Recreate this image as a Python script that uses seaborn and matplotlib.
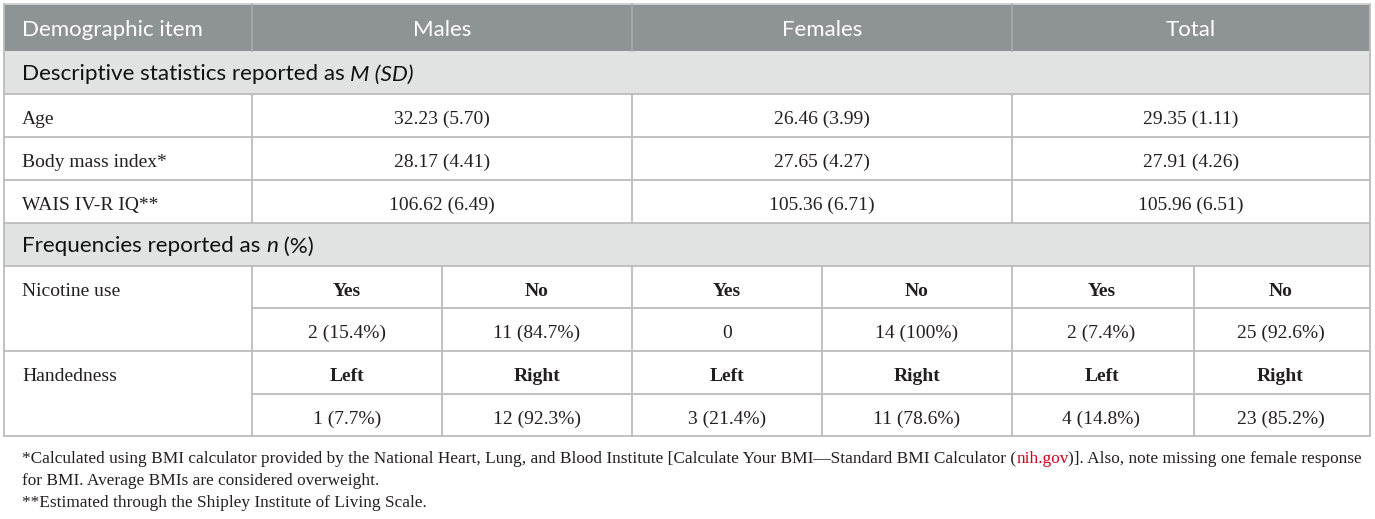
import matplotlib.pyplot as plt
import seaborn as sns

# table content
header = ["Demographic item", "Males", "Females", "Total"]
section_titles = ["Descriptive statistics reported as ", "Frequencies reported as "]
section_italics = ["M (SD)", "n"]
section_tails = ["", " (%)"]

desc_items = ["Age", "Body mass index*", "WAIS IV-R IQ**"]
males_msd = ["32.23 (5.70)", "28.17 (4.41)", "106.62 (6.49)"]
females_msd = ["26.46 (3.99)", "27.65 (4.27)", "105.36 (6.71)"]
total_msd = ["29.35 (1.11)", "27.91 (4.26)", "105.96 (6.51)"]

freq_items = ["Nicotine use", "Handedness"]
freq_levels = [["Yes", "No"], ["Left", "Right"]]
males_freq = [["2 (15.4%)", "11 (84.7%)"], ["1 (7.7%)", "12 (92.3%)"]]
females_freq = [["0", "14 (100%)"], ["3 (21.4%)", "11 (78.6%)"]]
total_freq = [["2 (7.4%)", "25 (92.6%)"], ["4 (14.8%)", "23 (85.2%)"]]

note1a = "*Calculated using BMI calculator provided by the National Heart, Lung, and Blood Institute [Calculate Your BMI\u2014Standard BMI Calculator ("
note1b = "nih.gov"
note1c = ")]. Also, note missing one female response"
note2 = "for BMI. Average BMIs are considered overweight."
note3 = "**Estimated through the Shipley Institute of Living Scale."

sns.set_theme(style="white")
plt.rcParams["font.family"] = ["Liberation Serif", "DejaVu Serif"]

HEAD_BG = "#8e9395"
HEAD_SEP = "#a7abad"
SECT_BG = "#e1e3e2"
LINE = "#bcbcbc"
INK = "#231f20"
SANS = ["Lato", "DejaVu Sans"]

fig = plt.figure(figsize=(13.75, 5.19), dpi=100)
ax = fig.add_axes([0, 0, 1, 1])
ax.set_xlim(0, 1375)
ax.set_ylim(519, 0)
ax.axis("off")
renderer = fig.canvas.get_renderer()


def draw_runs(x, y, runs, **kw):
    # text pieces with different styles placed one after another
    for s, extra in runs:
        t = ax.text(x, y, s, ha="left", va="center_baseline", **{**kw, **extra})
        x += t.get_window_extent(renderer).width


L, C1, CM, CF, R = 4, 252, 632, 1012, 1370
subs = [442, 822, 1194]
rows = [4, 51, 94, 137, 180, 223, 266, 308, 351, 394, 436]

# backgrounds
ax.fill_between([L, R], rows[0], rows[1], color=HEAD_BG, lw=0)
ax.fill_between([L, R], rows[1], rows[2], color=SECT_BG, lw=0)
ax.fill_between([L, R], rows[5], rows[6], color=SECT_BG, lw=0)

lw = 1.3
for y in [rows[2], rows[3], rows[4], rows[5], rows[6], rows[8], rows[10]]:
    ax.plot([L, R], [y, y], color=LINE, lw=lw)
for y in [rows[7], rows[9]]:
    ax.plot([C1, R], [y, y], color=LINE, lw=lw)
ax.plot([L, R], [rows[0], rows[0]], color="#d0d2d2", lw=lw)
for x in [L, R]:
    ax.plot([x, x], [rows[0], rows[10]], color=LINE, lw=lw)
for x in [C1, CM, CF]:
    ax.plot([x, x], [rows[0], rows[1]], color=HEAD_SEP, lw=lw)
    ax.plot([x, x], [rows[2], rows[5]], color=LINE, lw=lw)
    ax.plot([x, x], [rows[6], rows[10]], color=LINE, lw=lw)
for x in subs:
    ax.plot([x, x], [rows[6], rows[10]], color=LINE, lw=lw)

# header
mid = lambda a, b: (a + b) / 2
hy = mid(rows[0], rows[1])
hfont = dict(family=SANS, fontsize=16, color="white", va="center_baseline")
ax.text(22, hy, header[0], ha="left", **hfont)
for name, (a, b) in zip(header[1:], [(C1, CM), (CM, CF), (CF, R)]):
    ax.text(mid(a, b), hy, name, ha="center", **hfont)

# section rows
for i, r in enumerate([1, 5]):
    draw_runs(22, mid(rows[r], rows[r + 1]),
              [(section_titles[i], {}), (section_italics[i], {"style": "italic"}),
               (section_tails[i], {})],
              family=SANS, fontsize=16.2, color="#111111")

body = dict(fontsize=14, color=INK, va="center_baseline")
dy = 2
groups = [(C1, CM), (CM, CF), (CF, R)]
for i, item in enumerate(desc_items):
    y = mid(rows[2 + i], rows[3 + i]) + dy
    ax.text(22, y, item, ha="left", **body)
    for (a, b), vals in zip(groups, [males_msd, females_msd, total_msd]):
        ax.text(mid(a, b), y, vals[i], ha="center", **body)

for i, item in enumerate(freq_items):
    top, midrow, bot = rows[6 + 2 * i], rows[7 + 2 * i], rows[8 + 2 * i]
    ax.text(22, mid(top, midrow) + dy, item, ha="left", **body)
    for (a, b), vals in zip(groups, [males_freq, females_freq, total_freq]):
        split = mid(a, b)
        for j, (x0, x1) in enumerate([(a, split), (split, b)]):
            ax.text(mid(x0, x1), mid(top, midrow) + dy, freq_levels[i][j], ha="center",
                    fontweight="bold", **body)
            ax.text(mid(x0, x1), mid(midrow, bot) + dy, vals[i][j], ha="center", **body)

# footnotes
foot = dict(fontsize=12.4, color=INK)
draw_runs(22, 457, [(note1a, {}), (note1b, {"color": "#d0021b"}), (note1c, {})], **foot)
ax.text(22, 479, note2, va="center_baseline", **foot)
ax.text(22, 501, note3, va="center_baseline", **foot)

fig.savefig("out.png", dpi=100)
